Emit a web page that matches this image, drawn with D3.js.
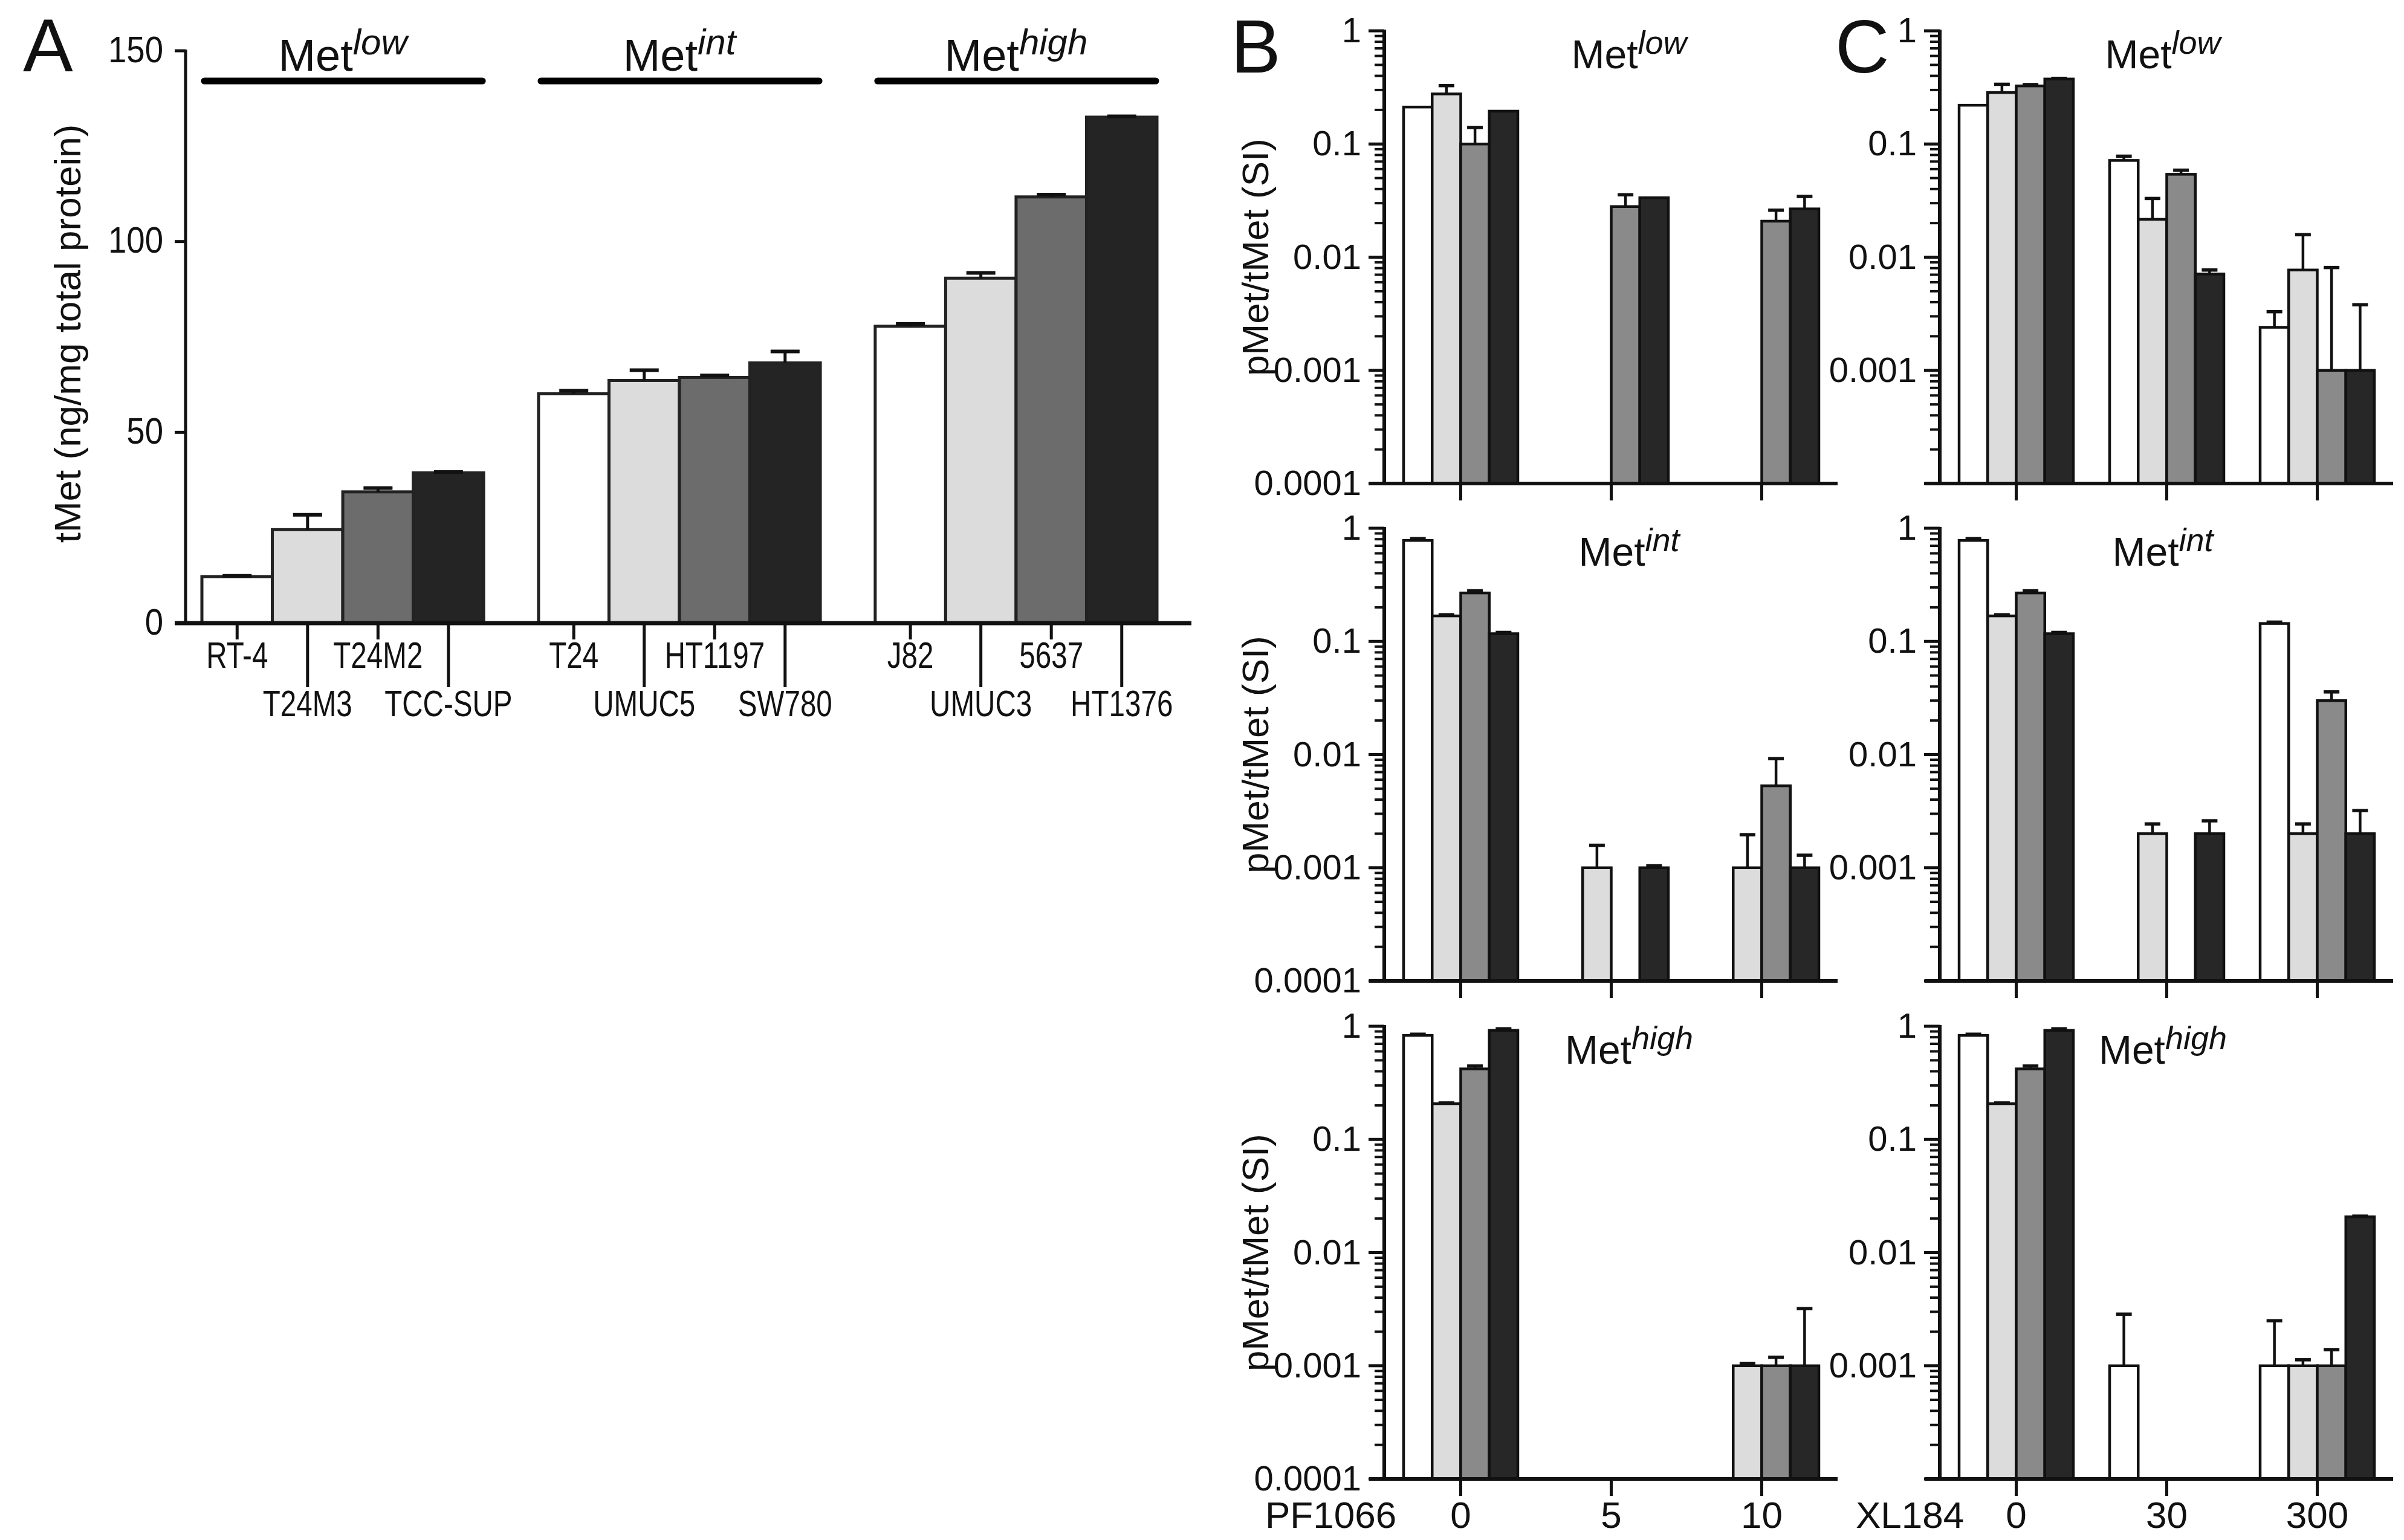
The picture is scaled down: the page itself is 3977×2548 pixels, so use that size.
<!DOCTYPE html>
<html>
<head>
<meta charset="utf-8">
<script src="https://cdnjs.cloudflare.com/ajax/libs/d3/7.8.5/d3.min.js"></script>
<style>
    html, body { margin: 0; padding: 0; background: #fff; }
    svg { display: block; }
    text { font-family: "Liberation Sans", Arial, sans-serif; fill: #111; }
</style>
</head>
<body>
<div id="chart"></div>
<script>
// ---- Panel A data: total Met per cell line ----
const metLevels = ['low', 'int', 'high'];
const cellLines = ['RT-4', 'T24M3', 'T24M2', 'TCC-SUP', 'T24', 'UMUC5', 'HT1197', 'SW780', 'J82', 'UMUC3', '5637', 'HT1376'];
const tMetMean = [12.2, 24.5, 34.4, 39.4, 60.1, 63.6, 64.4, 68.2, 77.8, 90.4, 111.7, 132.6];
const tMetErr = [0.2, 3.9, 1.0, 0.2, 0.8, 2.7, 0.5, 3.0, 0.6, 1.4, 0.6, 0.2];
const tMetTicks = [0, 50, 100, 150];

// ---- Panels B / C: pMet/tMet (rows = Met level, groups = dose, 4 cell lines per group) ----
const pfDoses = ['0', '5', '10'];
const xlDoses = ['0', '30', '300'];
const logTickLabels = ['1', '0.1', '0.01', '0.001', '0.0001'];

const pfLowMean = [[0.212, 0.277, 0.100, 0.195], [null, null, 0.028, 0.0335], [null, null, 0.0208, 0.0267]];
const pfLowUpper = [[null, 0.328, 0.140, null], [null, null, 0.0356, null], [null, null, 0.026, 0.0344]];
const pfIntMean = [[0.78, 0.168, 0.268, 0.117], [null, 0.001, null, 0.001], [null, 0.001, 0.0053, 0.001]];
const pfIntUpper = [[0.81, 0.172, 0.28, 0.12], [null, 0.00158, null, 0.00104], [null, 0.00196, 0.0092, 0.00129]];
const pfHighMean = [[0.83, 0.207, 0.42, 0.92], [null, null, null, null], [null, 0.001, 0.001, 0.001]];
const pfHighUpper = [[0.85, 0.21, 0.445, 0.95], [null, null, null, null], [null, 0.00105, 0.00119, 0.0032]];

const xlLowMean = [[0.22, 0.285, 0.326, 0.375], [0.0716, 0.0216, 0.054, 0.0071], [0.0024, 0.0077, 0.001, 0.001]];
const xlLowUpper = [[null, 0.337, 0.335, 0.38], [0.078, 0.033, 0.0587, 0.0077], [0.0033, 0.0158, 0.0081, 0.0038]];
const xlIntMean = [[0.78, 0.168, 0.268, 0.117], [null, 0.002, null, 0.002], [0.144, 0.002, 0.030, 0.002]];
const xlIntUpper = [[0.81, 0.172, 0.28, 0.12], [null, 0.00244, null, 0.0026], [0.148, 0.00244, 0.0358, 0.0032]];
const xlHighMean = [[0.83, 0.207, 0.42, 0.92], [0.001, null, null, null], [0.001, 0.001, 0.001, 0.0207]];
const xlHighUpper = [[0.85, 0.21, 0.445, 0.95], [0.00286, null, null, null], [0.0025, 0.00113, 0.00139, 0.021]];

const W = 3977, H = 2548;
const fillsA = ['#ffffff', '#dcdcdc', '#6c6c6c', '#242424'];
const fillsBC = ['#ffffff', '#dcdcdc', '#8a8a8a', '#272727'];

const svg = d3.select('#chart').append('svg')
    .attr('width', W)
    .attr('height', H);
svg.append('rect').attr('width', W).attr('height', H).attr('fill', '#fff');

// small helper for "Met" + italic superscript
function metTitle(g, x, y, level, size, supSize) {
    const t = g.append('text')
        .attr('x', x)
        .attr('y', y)
        .attr('text-anchor', 'middle')
        .style('font-size', size + 'px');
    t.append('tspan').text('Met');
    t.append('tspan')
        .attr('dy', -size * 0.36)
        .style('font-size', supSize + 'px')
        .style('font-style', 'italic')
        .text(level);
}

// ================= Panel A =================
const gA = svg.append('g');
const aAxisX = 307;
const aY = d3.scaleLinear().domain([0, 150]).range([1031, 84]);
const aGroup = d3.scaleBand().domain(metLevels).range([334, 1914]).paddingInner(0.163).paddingOuter(0);
const aBar = d3.scaleBand().domain(d3.range(4)).range([0, aGroup.bandwidth()]);

const aData = cellLines.map((name, k) => ({
    name: name,
    level: metLevels[Math.floor(k / 4)],
    idx: k % 4,
    k: k,
    mean: tMetMean[k],
    err: tMetErr[k]
}));
const aX = d => aGroup(d.level) + aBar(d.idx);
const aMid = d => aX(d) + aBar.bandwidth() / 2;

// bars
gA.selectAll('.barA')
    .data(aData)
    .enter()
    .append('rect')
    .attr('class', 'barA')
    .attr('x', d => aX(d))
    .attr('y', d => aY(d.mean))
    .attr('width', aBar.bandwidth())
    .attr('height', d => aY(0) - aY(d.mean))
    .attr('fill', d => fillsA[d.idx])
    .attr('stroke', '#222')
    .attr('stroke-width', 5);

// error bars (upper only)
gA.selectAll('.errA')
    .data(aData)
    .enter()
    .append('line')
    .attr('x1', aMid)
    .attr('x2', aMid)
    .attr('y1', d => aY(d.mean))
    .attr('y2', d => aY(d.mean + d.err))
    .attr('stroke', '#111')
    .attr('stroke-width', 5);
gA.selectAll('.capA')
    .data(aData)
    .enter()
    .append('line')
    .attr('x1', d => aMid(d) - 24)
    .attr('x2', d => aMid(d) + 24)
    .attr('y1', d => aY(d.mean + d.err))
    .attr('y2', d => aY(d.mean + d.err))
    .attr('stroke', '#111')
    .attr('stroke-width', 6);

// axes
gA.append('line')
    .attr('x1', aAxisX).attr('x2', aAxisX)
    .attr('y1', aY(150) - 2).attr('y2', aY(0))
    .attr('stroke', '#111').attr('stroke-width', 5);
gA.append('line')
    .attr('x1', 289).attr('x2', 1971)
    .attr('y1', aY(0)).attr('y2', aY(0))
    .attr('stroke', '#111').attr('stroke-width', 7);

gA.selectAll('.ytickA')
    .data(tMetTicks)
    .enter()
    .append('line')
    .attr('x1', aAxisX - 18).attr('x2', aAxisX)
    .attr('y1', d => aY(d)).attr('y2', d => aY(d))
    .attr('stroke', '#111').attr('stroke-width', 5);
gA.selectAll('.ylabA')
    .data(tMetTicks)
    .enter()
    .append('text')
    .attr('transform', d => `translate(270,${aY(d)}) scale(0.88,1)`)
    .attr('dy', '0.3em')
    .attr('text-anchor', 'end')
    .style('font-size', '62px')
    .text(d => d);

// category ticks and staggered labels (condensed type, as in the original)
gA.selectAll('.xtickA')
    .data(aData)
    .enter()
    .append('line')
    .attr('x1', aMid)
    .attr('x2', aMid)
    .attr('y1', aY(0))
    .attr('y2', d => d.k % 2 === 0 ? 1058 : 1137)
    .attr('stroke', '#111').attr('stroke-width', 5);
gA.selectAll('.xlabA')
    .data(aData)
    .enter()
    .append('text')
    .attr('transform', d => `translate(${aMid(d)},${d.k % 2 === 0 ? 1105 : 1185}) scale(0.78,1)`)
    .attr('text-anchor', 'middle')
    .style('font-size', '61px')
    .text(d => d.name);

// group lines and titles
metLevels.forEach(level => {
    gA.append('line')
        .attr('x1', aGroup(level) + 4)
        .attr('x2', aGroup(level) + aGroup.bandwidth() - 2)
        .attr('y1', 134).attr('y2', 134)
        .attr('stroke', '#000').attr('stroke-width', 11)
        .attr('stroke-linecap', 'round');
    metTitle(gA, aGroup(level) + aGroup.bandwidth() / 2, 117, level, 74, 60);
});

gA.append('text')
    .attr('transform', 'translate(133,552) rotate(-90)')
    .attr('text-anchor', 'middle')
    .style('font-size', '62px')
    .text('tMet (ng/mg total protein)');

gA.append('text')
    .attr('x', 38).attr('y', 118)
    .style('font-size', '124px')
    .text('A');

// ================= Panels B and C =================
const rowTops = [51, 874, 1698];
const rowH = 749;

function drawLogPanel(axisX, row, level, means, uppers, doses, opts) {
    const g = svg.append('g');
    const top = rowTops[row];
    const bottom = top + rowH;
    const y = d3.scaleLog().domain([1e-4, 1]).range([bottom, top]);
    const groups = d3.scaleBand().domain(doses).range([axisX + 32, axisX + 32 + 687]).paddingInner(0.241).paddingOuter(0);
    const bar = d3.scaleBand().domain(d3.range(4)).range([0, groups.bandwidth()]);

    const items = [];
    doses.forEach((dose, gi) => {
        means[gi].forEach((v, i) => {
            if (v != null) items.push({ dose: dose, i: i, mean: v, upper: uppers[gi][i] });
        });
    });
    const bx = d => groups(d.dose) + bar(d.i);

    g.selectAll('.bar')
        .data(items)
        .enter()
        .append('rect')
        .attr('x', d => bx(d))
        .attr('y', d => y(d.mean))
        .attr('width', bar.bandwidth())
        .attr('height', d => bottom - y(d.mean))
        .attr('fill', d => fillsBC[d.i])
        .attr('stroke', '#111')
        .attr('stroke-width', 4.5);

    const errs = items.filter(d => d.upper != null && d.upper > d.mean);
    g.selectAll('.err')
        .data(errs)
        .enter()
        .append('line')
        .attr('x1', d => bx(d) + bar.bandwidth() / 2)
        .attr('x2', d => bx(d) + bar.bandwidth() / 2)
        .attr('y1', d => y(d.mean))
        .attr('y2', d => y(d.upper))
        .attr('stroke', '#111').attr('stroke-width', 4.5);
    g.selectAll('.cap')
        .data(errs)
        .enter()
        .append('line')
        .attr('x1', d => bx(d) + bar.bandwidth() / 2 - 13)
        .attr('x2', d => bx(d) + bar.bandwidth() / 2 + 13)
        .attr('y1', d => y(d.upper))
        .attr('y2', d => y(d.upper))
        .attr('stroke', '#111').attr('stroke-width', 5.5);

    // y axis with log ticks
    g.append('line')
        .attr('x1', axisX).attr('x2', axisX)
        .attr('y1', top - 2).attr('y2', bottom)
        .attr('stroke', '#111').attr('stroke-width', 6);
    const ticks = y.ticks();
    const isMajor = v => Math.abs(Math.log10(v) - Math.round(Math.log10(v))) < 1e-6;
    g.selectAll('.ytick')
        .data(ticks)
        .enter()
        .append('line')
        .attr('x1', d => axisX - (isMajor(d) ? 26 : 16))
        .attr('x2', axisX)
        .attr('y1', d => y(d)).attr('y2', d => y(d))
        .attr('stroke', '#111')
        .attr('stroke-width', d => isMajor(d) ? 5 : 4);
    const labels = logTickLabels.filter(s => opts.showBottomTick || s !== '0.0001');
    g.selectAll('.ylab')
        .data(labels)
        .enter()
        .append('text')
        .attr('x', axisX - 38)
        .attr('y', d => y(+d))
        .attr('dy', '0.33em')
        .attr('text-anchor', 'end')
        .style('font-size', '58px')
        .text(d => d);

    // x axis with group ticks
    g.append('line')
        .attr('x1', axisX - 25).attr('x2', axisX + 750)
        .attr('y1', bottom).attr('y2', bottom)
        .attr('stroke', '#111').attr('stroke-width', 6);
    g.selectAll('.xtick')
        .data(doses)
        .enter()
        .append('line')
        .attr('x1', d => groups(d) + groups.bandwidth() / 2)
        .attr('x2', d => groups(d) + groups.bandwidth() / 2)
        .attr('y1', bottom).attr('y2', bottom + 28)
        .attr('stroke', '#111').attr('stroke-width', 5);

    if (opts.drug) {
        g.selectAll('.xlab')
            .data(doses)
            .enter()
            .append('text')
            .attr('x', d => groups(d) + groups.bandwidth() / 2)
            .attr('y', 2528)
            .attr('text-anchor', 'middle')
            .style('font-size', '62px')
            .text(d => d);
        g.append('text')
            .attr('x', opts.drugX)
            .attr('y', 2528)
            .style('font-size', '62px')
            .text(opts.drug);
    }

    if (opts.yLabel) {
        g.append('text')
            .attr('transform', `translate(2098,${(top + bottom) / 2}) rotate(-90)`)
            .attr('text-anchor', 'middle')
            .style('font-size', '62px')
            .text('pMet/tMet (SI)');
    }

    metTitle(g, opts.titleX, top + 62, level, 66, 54);
}

const pfMeans = [pfLowMean, pfIntMean, pfHighMean];
const pfUppers = [pfLowUpper, pfIntUpper, pfHighUpper];
const xlMeans = [xlLowMean, xlIntMean, xlHighMean];
const xlUppers = [xlLowUpper, xlIntUpper, xlHighUpper];

metLevels.forEach((level, r) => {
    drawLogPanel(2290, r, level, pfMeans[r], pfUppers[r], pfDoses, {
        showBottomTick: true,
        yLabel: true,
        titleX: 2695,
        drug: r === 2 ? 'PF1066' : null,
        drugX: 2093
    });
    drawLogPanel(3209, r, level, xlMeans[r], xlUppers[r], xlDoses, {
        showBottomTick: false,
        yLabel: false,
        titleX: 3578,
        drug: r === 2 ? 'XL184' : null,
        drugX: 3070
    });
});

svg.append('text').attr('x', 2036).attr('y', 120).style('font-size', '124px').text('B');
svg.append('text').attr('x', 3036).attr('y', 120).style('font-size', '124px').text('C');
</script>
</body>
</html>
